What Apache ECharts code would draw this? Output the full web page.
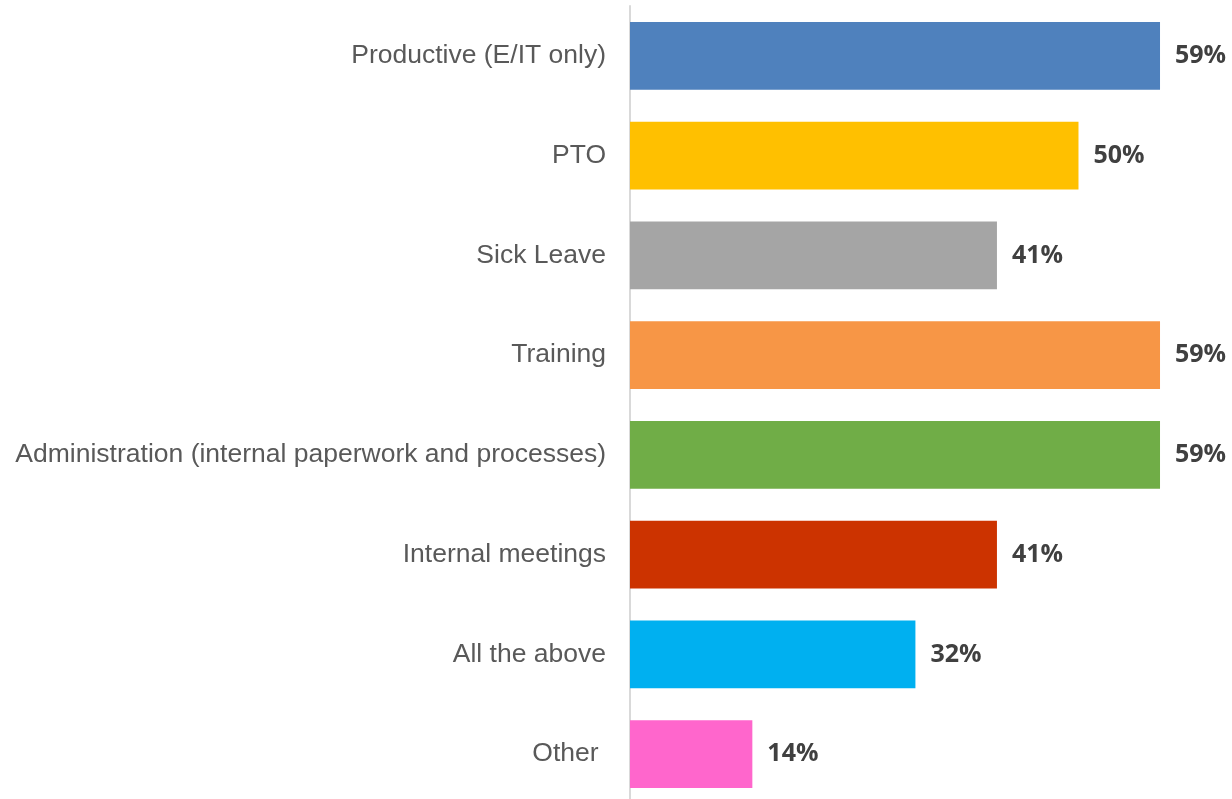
<!DOCTYPE html>
<html>
<head>
<meta charset="utf-8">
<script src="https://cdn.jsdelivr.net/npm/echarts@6/dist/echarts.min.js"></script>
<style>html,body{margin:0;padding:0;background:#fff;}#c{width:1232px;height:799px;}</style>
</head>
<body>
<div id="c"></div>
<script>
const categories = ["Productive (E/IT only)", "PTO", "Sick Leave", "Training", "Administration (internal paperwork and processes)", "Internal meetings", "All the above", "Other "];
const values = [59.09, 50.0, 40.91, 59.09, 59.09, 40.91, 31.82, 13.64];
const colors = ["#4F81BD", "#FFC000", "#A5A5A5", "#F79646", "#70AD47", "#CC3300", "#00B0F0", "#FF66CC"];

const chart = echarts.init(document.getElementById('c'), null, {renderer: 'canvas'});
chart.setOption({
  animation: false,
  grid: {left: 630, right: 10, top: 6, height: 798, outerBoundsMode: 'none', containLabel: false},
  xAxis: {type: 'value', min: 0, max: 66, show: false, splitLine: {show: false}},
  yAxis: {
    type: 'category', inverse: true, data: categories,
    axisLine: {show: true, lineStyle: {color: '#D9D9D9', width: 2}},
    axisTick: {show: false},
    axisLabel: {color: '#595959', fontFamily: 'Liberation Sans', fontSize: 26.5, margin: 24, padding: [5, 0, 0, 0]}
  },
  series: [{
    type: 'bar', barCategoryGap: '32%',
    data: values.map((v, i) => ({value: v, itemStyle: {color: colors[i]}})),
    label: {show: true, position: 'right', distance: 15, color: '#404040', fontFamily: 'Open Sans', fontWeight: 'bold', fontSize: 25,
      padding: [6, 0, 0, 0],
      formatter: p => Math.round(p.value) + '%'}
  }]
});
</script>
</body>
</html>
